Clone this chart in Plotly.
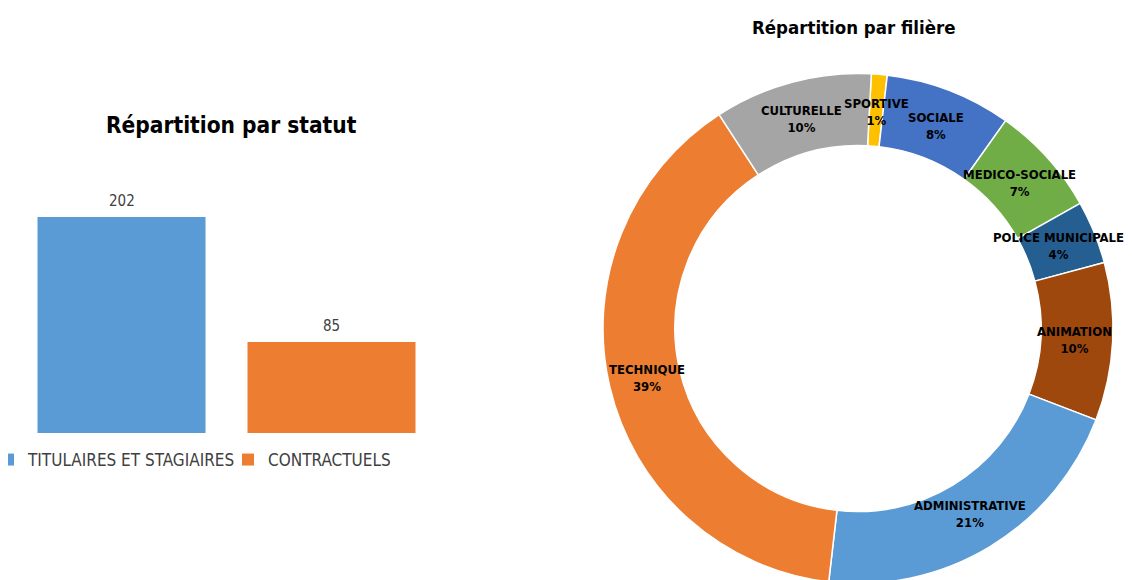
import math
import plotly.graph_objects as go

W, H = 1132, 580
OFF = 8  # page body margin offset (px) compensated in layout positions

# ---- data ----
statut_labels = ["TITULAIRES ET STAGIAIRES", "CONTRACTUELS"]
statut_values = [202, 85]
statut_colors = ["#5B9BD5", "#ED7D31"]

filiere_labels = ["SPORTIVE", "SOCIALE", "MEDICO-SOCIALE", "POLICE MUNICIPALE",
                  "ANIMATION", "ADMINISTRATIVE", "TECHNIQUE", "CULTURELLE"]
filiere_pct = [1, 8, 7, 4, 10, 21, 39, 10]
filiere_colors = ["#FFC000", "#4472C4", "#70AD47", "#255E91",
                  "#9E480E", "#5B9BD5", "#ED7D31", "#A5A5A5"]

title_statut = "Répartition par statut"
title_filiere = "Répartition par filière"

FONT = "Liberation Sans Narrow, Arial Narrow, DejaVu Sans Condensed, sans-serif"


def px_x(sx):
    return (sx - OFF) / W


def px_y(sy):
    return (H - (sy - OFF)) / H


fig = go.Figure()

# ---- bar chart ----
for lab, val, col in zip(statut_labels, statut_values, statut_colors):
    fig.add_trace(go.Bar(
        x=[lab], y=[val], name=lab, marker=dict(color=col, line=dict(width=0)),
        xaxis="x", yaxis="y", hoverinfo="x+y",
    ))

# ---- donut ----
pc_x, pc_y, pr = 858, 328.5, 255
pie_dom_x = [px_x(pc_x - pr), px_x(pc_x + pr)]
pie_dom_y = [px_y(pc_y + pr), px_y(pc_y - pr)]
hole = 0.718
rotation = 3
fig.add_trace(go.Pie(
    labels=filiere_labels, values=filiere_pct, sort=False, direction="clockwise",
    rotation=rotation, hole=hole, textinfo="none", showlegend=False,
    marker=dict(colors=filiere_colors, line=dict(color="white", width=1.5)),
    domain=dict(x=pie_dom_x, y=pie_dom_y),
))

annotations = []
# bar value labels
for lab, val in zip(statut_labels, statut_values):
    annotations.append(dict(
        x=lab, y=val, xref="x", yref="y", text=str(val), showarrow=False,
        xanchor="center", yanchor="bottom", yshift=5,
        font=dict(family=FONT, size=15, color="#404040"),
    ))

# donut labels at ring mid radius
cx = (pie_dom_x[0] + pie_dom_x[1]) / 2
cy = (pie_dom_y[0] + pie_dom_y[1]) / 2
r_px = min((pie_dom_x[1] - pie_dom_x[0]) * W, (pie_dom_y[1] - pie_dom_y[0]) * H) / 2
rm = r_px * (1 + hole) / 2 - 2
total = sum(filiere_pct)
cum = 0
for lab, v in zip(filiere_labels, filiere_pct):
    th = math.radians(rotation + 360 * (cum + v / 2) / total)
    cum += v
    annotations.append(dict(
        x=cx + rm * math.sin(th) / W, y=cy + rm * math.cos(th) / H,
        xref="paper", yref="paper", showarrow=False,
        xanchor="center", yanchor="middle",
        text=f"{lab}<br>{round(100 * v / total)}%",
        font=dict(family=FONT, size=13, color="#000000", weight=700),
    ))

# titles
annotations.append(dict(
    x=px_x(231), y=px_y(125), xref="paper", yref="paper", showarrow=False,
    xanchor="center", yanchor="middle",
    text=title_statut, font=dict(family=FONT, size=22.5, color="#000000", weight=700),
))
annotations.append(dict(
    x=px_x(854), y=px_y(28), xref="paper", yref="paper", showarrow=False,
    xanchor="center", yanchor="middle",
    text=title_filiere, font=dict(family=FONT, size=18.5, color="#000000", weight=700),
))

px_per_unit = 216 / 202
fig.update_layout(
    width=W, height=H, margin=dict(l=0, r=0, t=0, b=0, autoexpand=False),
    paper_bgcolor="white", plot_bgcolor="white",
    barmode="overlay", bargap=0.2,
    xaxis=dict(domain=[px_x(16.5), px_x(436.5)], range=[-0.5, 1.5],
               categoryorder="array", categoryarray=statut_labels,
               showticklabels=False, showgrid=False, zeroline=False, showline=False,
               fixedrange=True),
    yaxis=dict(domain=[px_y(433), px_y(183)], range=[0, 250 / px_per_unit],
               showticklabels=False, showgrid=False, zeroline=False, showline=False,
               fixedrange=True),
    showlegend=True,
    legend=dict(orientation="h", x=px_x(-12), xanchor="left", y=px_y(460),
                yanchor="middle", entrywidth=195, entrywidthmode="pixels",
                font=dict(family=FONT, size=17, color="#404040"),
                bgcolor="rgba(0,0,0,0)", itemclick=False, itemdoubleclick=False),
    annotations=annotations,
)

fig.write_html("out.html")
